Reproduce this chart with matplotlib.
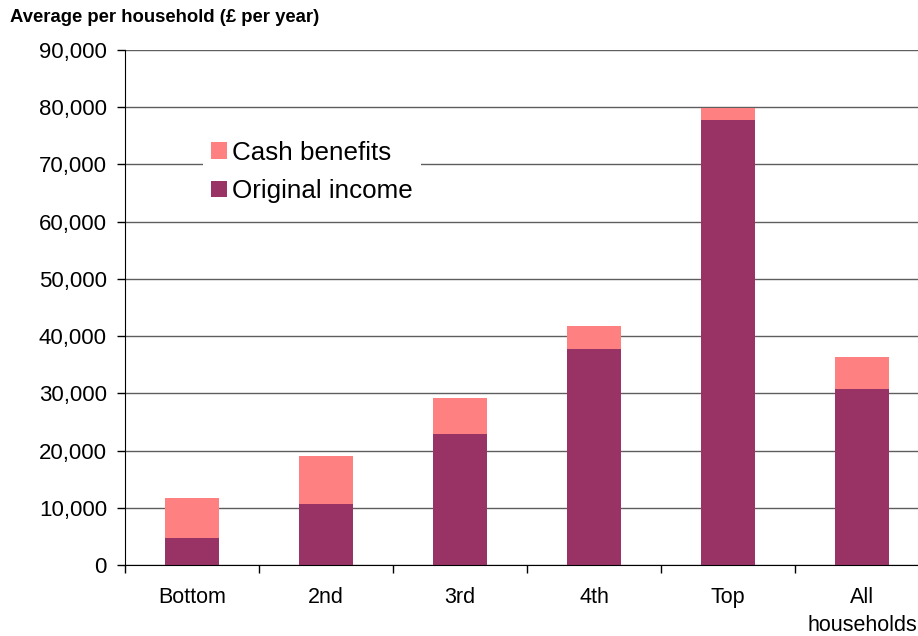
import numpy as np
import matplotlib
matplotlib.use("Agg")
import matplotlib.pyplot as plt
from matplotlib.ticker import FuncFormatter, MultipleLocator, FixedLocator

# data
groups = ["Bottom", "2nd", "3rd", "4th", "Top", "All\nhouseholds"]
original_income = [4800, 10700, 22900, 37700, 77800, 30800]
total_income = [11700, 19100, 29100, 41700, 79800, 36300]
cash_benefits = [t - o for t, o in zip(total_income, original_income)]

plt.rcParams['font.family'] = ['Liberation Sans', 'DejaVu Sans']

fig = plt.figure(figsize=(9.18, 6.36), dpi=100)
W, H = 918, 636
ax = fig.add_axes([125 / W, (H - 565) / H, (929 - 125) / W, 515 / H])

x = np.arange(len(groups))
b1 = ax.bar(x, original_income, width=0.4, color="#993366", zorder=3, label="Original income")
b2 = ax.bar(x, cash_benefits, width=0.4, bottom=original_income, color="#FF8080",
            zorder=3, label="Cash benefits")

ax.set_xlim(-0.5, len(groups) - 0.5)
ax.set_ylim(0, 90000)
ax.yaxis.set_major_locator(MultipleLocator(10000))
ax.yaxis.set_major_formatter(FuncFormatter(lambda v, p: f"{int(v):,}"))
ax.grid(axis="y", color="#5e5e5e", lw=1.0, zorder=0)

ax.set_xticks(x)
ax.set_xticklabels(groups, fontsize=15.5, linespacing=1.4)
ax.xaxis.set_minor_locator(FixedLocator(np.arange(-0.5, len(groups), 1.0)))
ax.tick_params(axis="x", which="major", length=0, pad=16)
ax.tick_params(axis="x", which="minor", length=6, width=1, direction="out")
ax.tick_params(axis="y", labelsize=16, length=6, width=1, pad=7)

for s in ["top", "right"]:
    ax.spines[s].set_visible(False)
ax.spines["left"].set_color("black")
ax.spines["bottom"].set_color("black")
ax.spines["bottom"].set_zorder(4)

fig.text(10 / W, 1 - 18 / H, "Average per household (£ per year)", fontsize=13.3,
         fontweight="bold", va="center", ha="left")

leg = ax.legend(handles=[b2, b1], loc="upper left",
                bbox_to_anchor=(203 / W, 1 - 133 / H), bbox_transform=fig.transFigure,
                fontsize=18.7, frameon=True, fancybox=False, facecolor="white",
                edgecolor="none", framealpha=1, borderaxespad=0, borderpad=0.3,
                handlelength=0.62, handleheight=0.62, handletextpad=0.2,
                labelspacing=0.55)
leg.set_zorder(5)

fig.savefig("out.png", dpi=100)
